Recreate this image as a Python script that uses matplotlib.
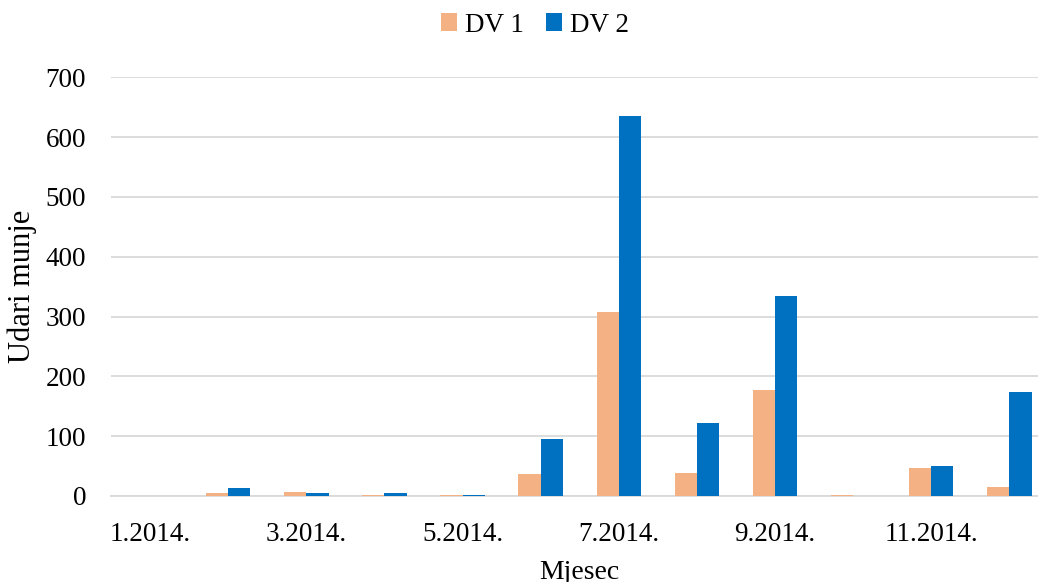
import numpy as np
import matplotlib
matplotlib.use('Agg')
import matplotlib.pyplot as plt

months = ['1.2014.', '2.2014.', '3.2014.', '4.2014.', '5.2014.', '6.2014.',
          '7.2014.', '8.2014.', '9.2014.', '10.2014.', '11.2014.', '12.2014.']
dv1 = [0, 5, 6, 1, 1, 37, 307, 39, 177, 1, 47, 15]
dv2 = [0, 13, 5, 4, 2, 95, 636, 122, 334, 0, 50, 174]

plt.rcParams['font.family'] = ['Liberation Serif', 'DejaVu Serif']

fig = plt.figure(figsize=(10.38, 5.82), dpi=100)
# axes run slightly past the right edge of the figure
ax = fig.add_axes([0.107, 0.148, 0.903, 0.719])

x = np.arange(len(months))
w = 0.285
ax.bar(x - w / 2, dv1, w, color='#F4B183', label='DV 1', zorder=3)
ax.bar(x + w / 2, dv2, w, color='#0070C0', label='DV 2', zorder=3)

ax.set_xlim(-0.5, len(months) - 0.5)
ax.set_ylim(0, 700)
ax.set_yticks(range(0, 701, 100))
ax.set_xticks(x[::2])
ax.set_xticklabels(months[::2])
ax.tick_params(axis='both', length=0, labelsize=19.5)
ax.tick_params(axis='x', pad=19)
ax.tick_params(axis='y', pad=18)

ax.grid(axis='y', color='#D9D9D9', linewidth=1.3, zorder=0)
for side in ['top', 'right', 'left']:
    ax.spines[side].set_visible(False)
ax.spines['bottom'].set_color('#D9D9D9')
ax.spines['bottom'].set_linewidth(1.3)

ax.set_ylabel('Udari munje', fontsize=22, labelpad=6)
ax.set_xlabel('Mjesec', fontsize=20, labelpad=9.5)

ax.legend(loc='center', bbox_to_anchor=(0.5 - 0.048, 1.125), ncol=2, frameon=False,
          fontsize=19.5, handlelength=0.6, handleheight=0.6, handletextpad=0.3,
          columnspacing=0.8, borderaxespad=0)

fig.savefig('out.png', dpi=100)
